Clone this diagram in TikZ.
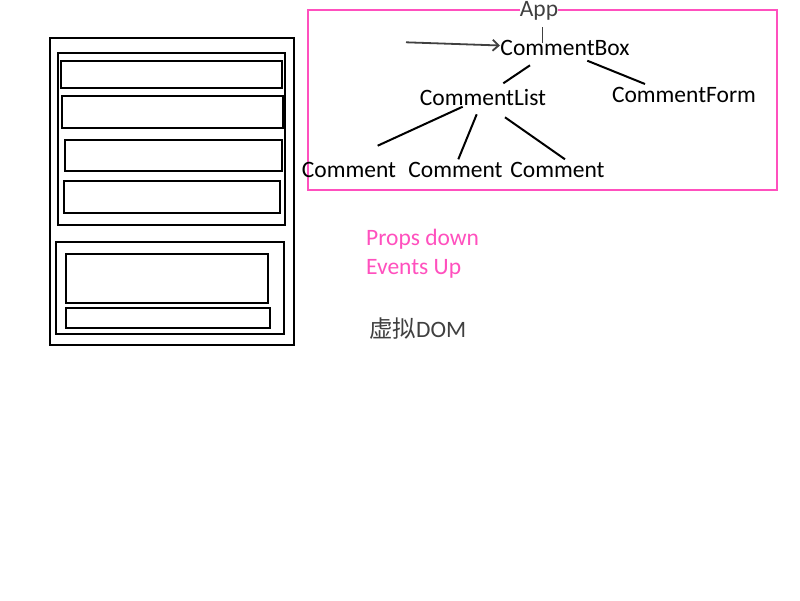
\documentclass[tikz,border=0pt]{standalone}
\usepackage{fontspec}
\setmainfont{Carlito}
\newfontfamily\cjkfont{Noto Sans CJK SC}
\usetikzlibrary{arrows.meta}
\definecolor{hotpink}{RGB}{255,80,190}
\definecolor{darkgray}{RGB}{64,64,64}
\begin{document}
\begin{tikzpicture}[x=1pt,y=-1pt,
  box/.style={draw=black,line width=2pt},
  lbl/.style={inner sep=0pt,font=\fontsize{23.5}{26}\selectfont},
  edge/.style={draw=black,line width=2pt},
]
\useasboundingbox[fill=white] (0,0) rectangle (800,600);
% left mockup
\draw[box] (50,38) rectangle (294,345);
\draw[box] (58,53) rectangle (285,225);
\draw[box] (61,61) rectangle (282,88);
\draw[box] (62,96) rectangle (283,128);
\draw[box] (65,140) rectangle (282,171);
\draw[box] (64,181) rectangle (280,213);
\draw[box] (56,242) rectangle (284,334);
\draw[box] (66,254) rectangle (268,303);
\draw[box] (66,308) rectangle (270,328);
% pink frame
\draw[hotpink,line width=1.6pt] (308,10) rectangle (777,190);
% tree
\node[lbl,text=darkgray,fill=white] (app) at (539,11) {App};
\node[lbl] (cb) at (565,48) {CommentBox};
\node[lbl] (cl) at (483,97) {CommentList};
\node[lbl] (cf) at (684,95) {CommentForm};
\node[lbl] (c1) at (349,170) {Comment};
\node[lbl] (c2) at (455.5,170) {Comment};
\node[lbl] (c3) at (557.5,170) {Comment};
\coordinate (src) at (406,42.3);
\draw[darkgray,line width=1pt] ([shift={(3,16)}]app.center) -- ([shift={(-23,-5)}]cb.center);
\draw[darkgray,line width=1.8pt,-{Straight Barb[length=6pt,width=11pt]}] (src) -- ([shift={(-65,-2.5)}]cb.center);
\draw[edge] ([shift={(-35,17.3)}]cb.center) -- ([shift={(20.3,-13.7)}]cl.center);
\draw[edge] ([shift={(22.3,12.7)}]cb.center) -- ([shift={(-39,-11)}]cf.center);
\draw[edge] ([shift={(-20.3,9.7)}]cl.center) -- ([shift={(28.7,-24.3)}]c1.center);
\draw[edge] ([shift={(-6.3,17.3)}]cl.center) -- ([shift={(2.8,-10.7)}]c2.center);
\draw[edge] ([shift={(22,20.3)}]cl.center) -- ([shift={(7.5,-10.7)}]c3.center);
% notes
\node[lbl,text=hotpink,anchor=west] (props) at (366,239) {Props down};
\node[lbl,text=hotpink,anchor=west] (events) at (366,269) {Events Up};
\node[lbl,text=darkgray,anchor=west] (vdom) at (369,329) {{\cjkfont\fontsize{23.5}{26}\selectfont 虚拟}DOM};
\end{tikzpicture}
\end{document}
